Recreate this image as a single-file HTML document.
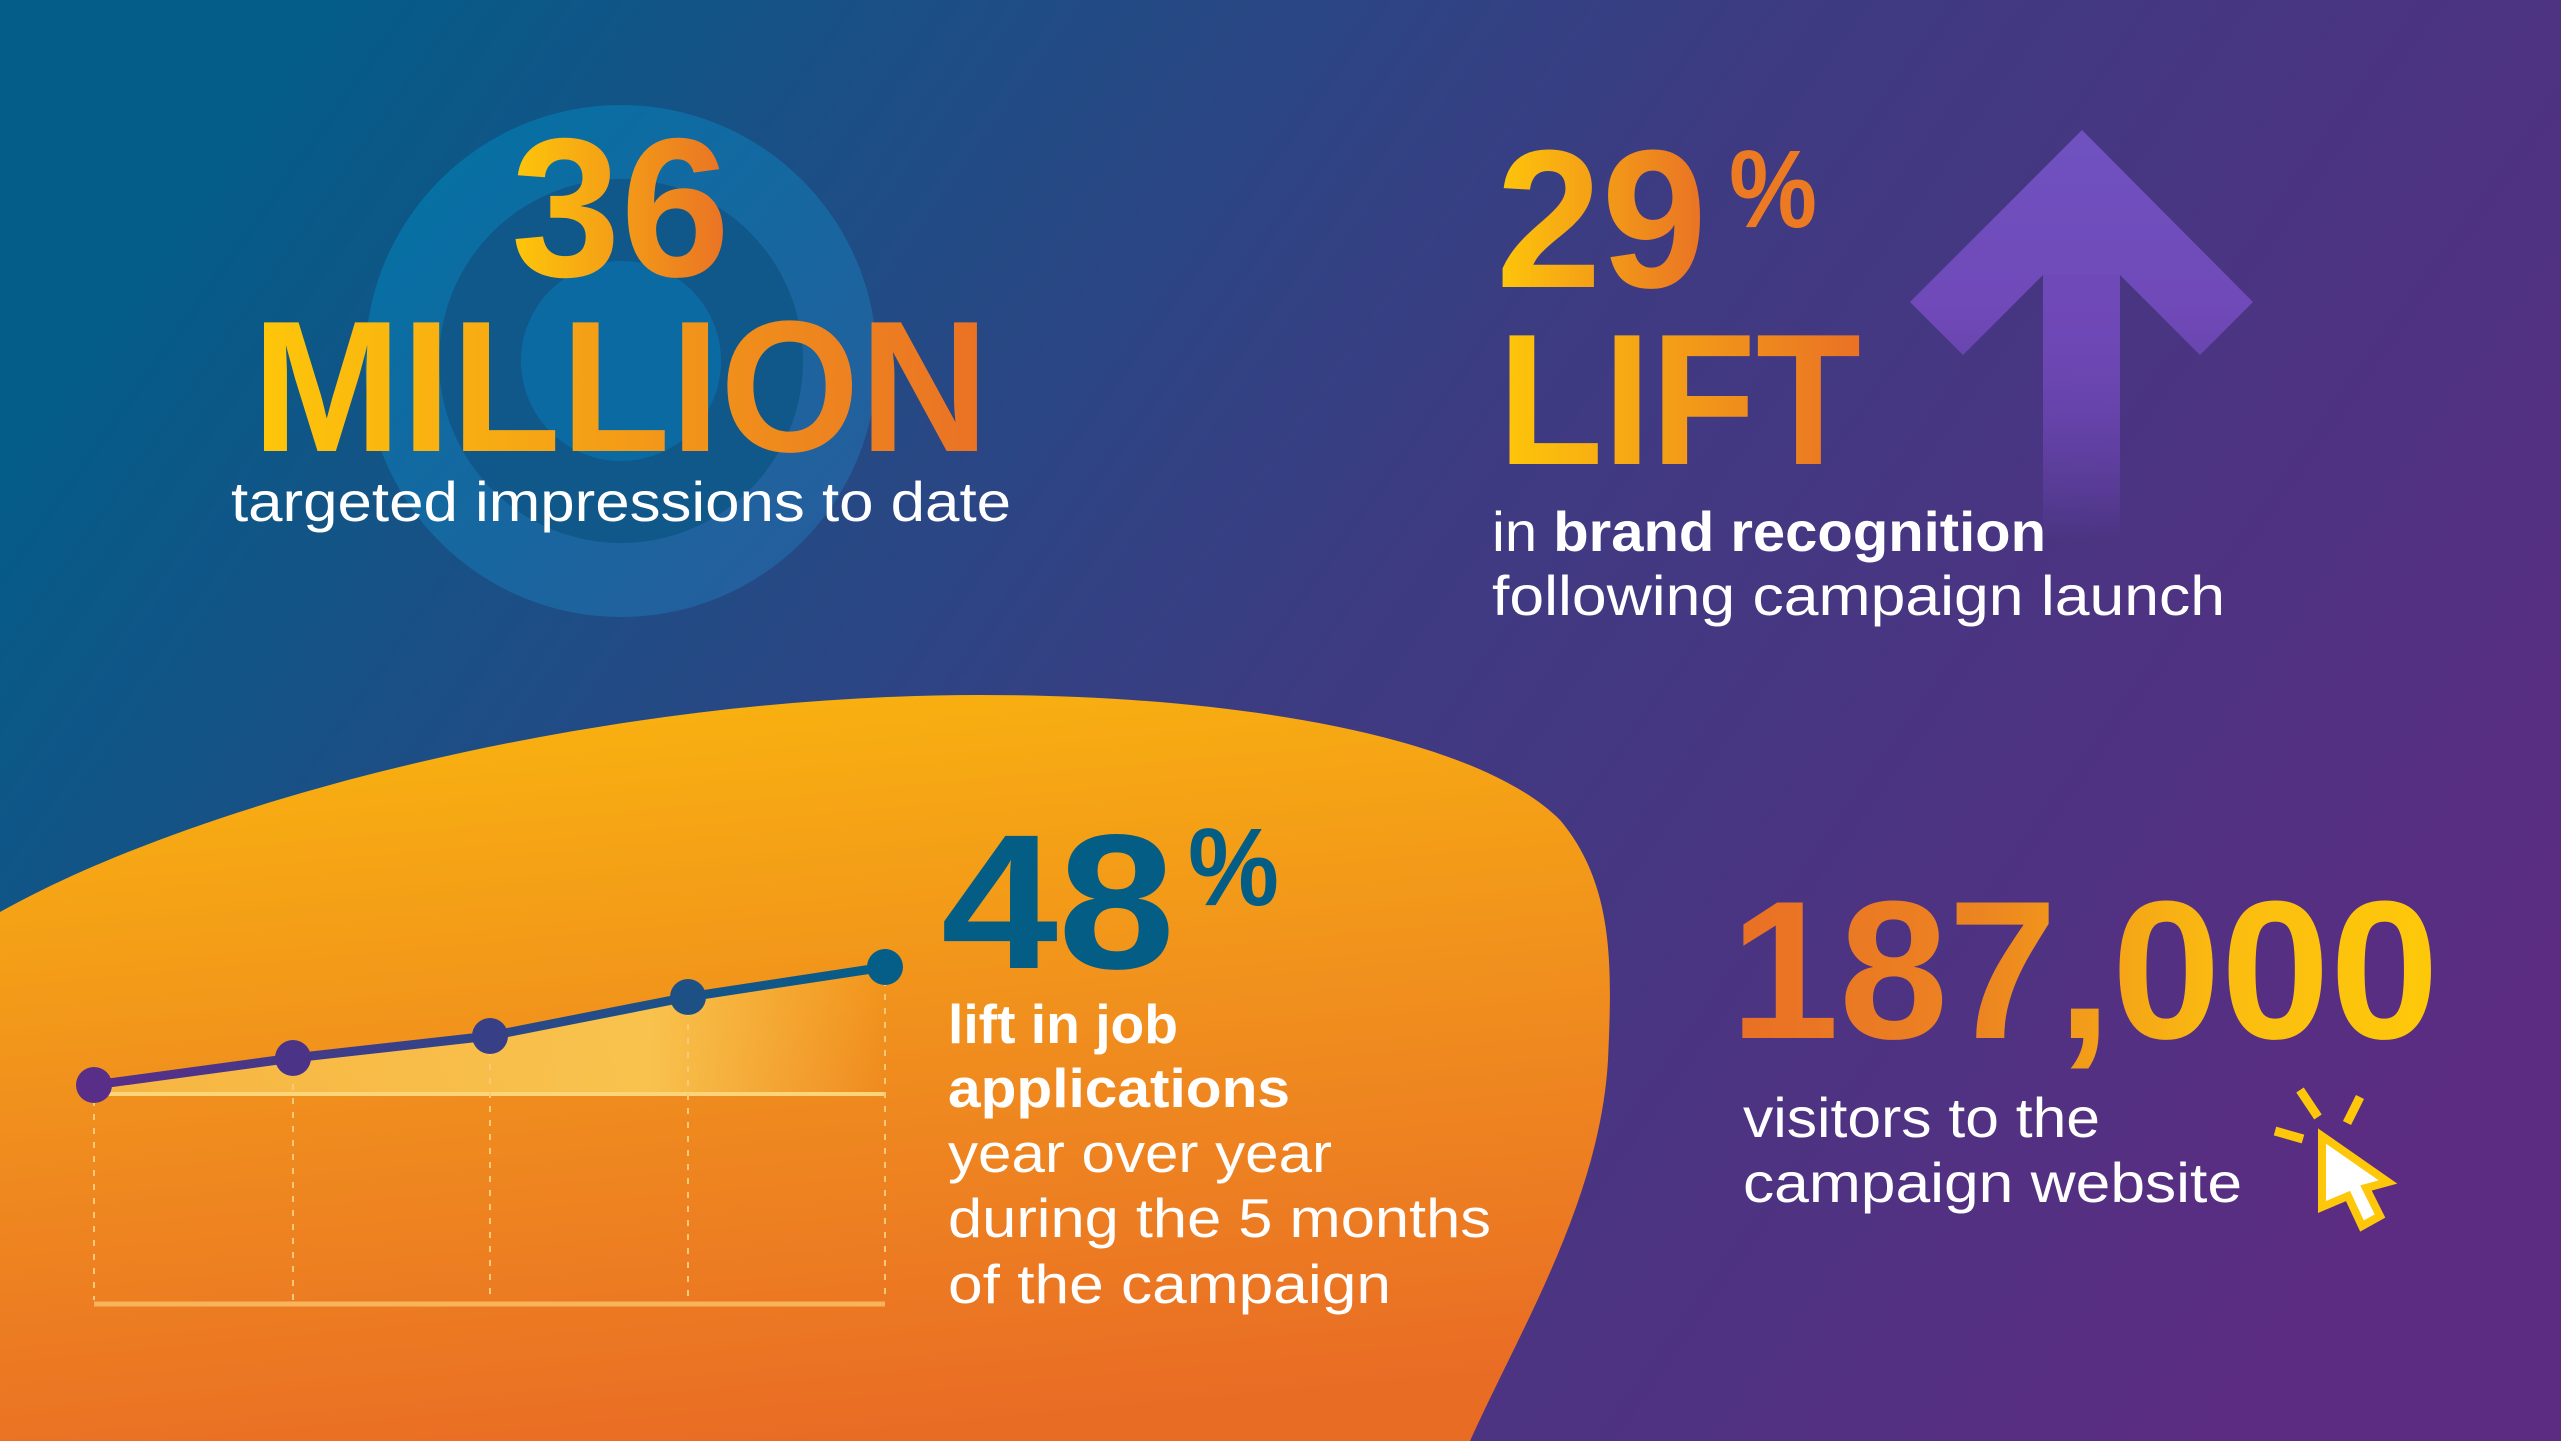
<!DOCTYPE html>
<html><head><meta charset="utf-8"><style>
html,body{margin:0;padding:0;width:2561px;height:1441px;overflow:hidden}
svg{display:block}
text{font-family:"Liberation Sans",sans-serif}
</style></head><body>
<svg width="2561" height="1441" viewBox="0 0 2561 1441" xmlns="http://www.w3.org/2000/svg">
<defs>
<linearGradient id="bg" x1="0" y1="0.3" x2="1" y2="0.7">
<stop offset="0" stop-color="#035d88"/>
<stop offset="0.5" stop-color="#3d3b82"/>
<stop offset="1" stop-color="#5c2c82"/>
</linearGradient>
<linearGradient id="blob" x1="0.3" y1="0" x2="0.5" y2="1">
<stop offset="0" stop-color="#f9b30f"/>
<stop offset="0.5" stop-color="#f08e1e"/>
<stop offset="1" stop-color="#e96c25"/>
</linearGradient>
<linearGradient id="yo" x1="0" y1="0" x2="1" y2="0">
<stop offset="0" stop-color="#fec70a"/>
<stop offset="1" stop-color="#e97125"/>
</linearGradient>
<linearGradient id="oy" x1="0" y1="0" x2="1" y2="0">
<stop offset="0" stop-color="#e96f25"/>
<stop offset="0.35" stop-color="#ec8421"/>
<stop offset="0.7" stop-color="#fbbd10"/>
<stop offset="1" stop-color="#fec90a"/>
</linearGradient>
<linearGradient id="ring" x1="0" y1="0" x2="1" y2="1">
<stop offset="0" stop-color="#0076a8"/>
<stop offset="1" stop-color="#2a5e9e"/>
</linearGradient>
<linearGradient id="arrow" x1="0" y1="0" x2="0" y2="1">
<stop offset="0" stop-color="#6f52c0"/>
<stop offset="0.45" stop-color="#7049b8"/>
<stop offset="1" stop-color="#7049b8" stop-opacity="0"/>
</linearGradient>
<linearGradient id="shaft" x1="0" y1="0" x2="0" y2="1">
<stop offset="0" stop-color="#7049b8"/>
<stop offset="1" stop-color="#6a44b0" stop-opacity="0"/>
</linearGradient>
<linearGradient id="area" x1="0" y1="0" x2="1" y2="0">
<stop offset="0" stop-color="#f9c550" stop-opacity="0.7"/>
<stop offset="0.7" stop-color="#f9c550" stop-opacity="0.95"/>
<stop offset="1" stop-color="#f9c550" stop-opacity="0"/>
</linearGradient>
<linearGradient id="line" x1="0" y1="0" x2="1" y2="0">
<stop offset="0" stop-color="#5a2d88"/>
<stop offset="1" stop-color="#045e88"/>
</linearGradient>
</defs>
<rect width="2561" height="1441" fill="url(#bg)"/>
<circle cx="621" cy="361" r="256" fill="url(#ring)" opacity="0.9"/>
<circle cx="621" cy="361" r="182" fill="#10578a"/>
<circle cx="621" cy="361" r="100" fill="#0c6aa2"/>
<polygon points="2082,130 2253,302 2200,355 2120,275 2120,540 2043,540 2043,275 1963,355 1910,302" fill="url(#arrow)"/>
<rect x="2043" y="275" width="77" height="265" fill="url(#shaft)"/>
<path d="M0,912 C200,800 600,695 980,695 C1250,695 1480,740 1560,820 C1615,885 1612,970 1608,1060 C1600,1200 1520,1330 1470,1441 L0,1441 Z" fill="url(#blob)"/>
<polygon points="94,1085 293,1058 490,1036 688,997 885,967 885,1094 94,1094" fill="url(#area)"/>
<line x1="94" y1="1094" x2="885" y2="1094" stroke="#fcd57a" stroke-width="4"/>
<line x1="94" y1="1304" x2="885" y2="1304" stroke="#f8b45a" stroke-width="5"/>
<g stroke="#f9c878" stroke-width="2" stroke-dasharray="6,8">
<line x1="94" y1="1100" x2="94" y2="1300"/>
<line x1="293" y1="1070" x2="293" y2="1300"/>
<line x1="490" y1="1050" x2="490" y2="1300"/>
<line x1="688" y1="1010" x2="688" y2="1300"/>
<line x1="885" y1="980" x2="885" y2="1300"/>
</g>
<polyline points="94,1085 293,1058 490,1036 688,997 885,967" fill="none" stroke="url(#line)" stroke-width="9" stroke-linejoin="round"/>
<circle cx="94" cy="1085" r="18" fill="#592e88"/>
<circle cx="293" cy="1058" r="18" fill="#4b3487"/>
<circle cx="490" cy="1036" r="18" fill="#373f86"/>
<circle cx="688" cy="997" r="18" fill="#1d5186"/>
<circle cx="885" cy="967" r="18" fill="#045e88"/>
<g stroke="#fec70a" stroke-width="9" stroke-linecap="butt">
<line x1="2300" y1="1090" x2="2318" y2="1117"/>
<line x1="2347" y1="1123" x2="2360" y2="1097"/>
<line x1="2275" y1="1131" x2="2303" y2="1139"/>
</g>
<polygon points="2322,1136 2388,1182 2366,1188 2380,1216 2362,1226 2348,1196 2322,1207" fill="#fff" stroke="#fec70a" stroke-width="8" stroke-linejoin="miter"/>
<text x="511" y="276" font-size="198" font-weight="bold" fill="url(#yo)" textLength="219" lengthAdjust="spacingAndGlyphs">36</text>
<text x="252" y="451" font-size="187" font-weight="bold" fill="url(#yo)" textLength="737" lengthAdjust="spacingAndGlyphs">MILLION</text>
<text x="231" y="521" font-size="56" fill="#fff" textLength="780" lengthAdjust="spacingAndGlyphs">targeted impressions to date</text>
<text x="1496" y="287" font-size="197" font-weight="bold" fill="url(#yo)" textLength="211" lengthAdjust="spacingAndGlyphs">29</text>
<text x="1729" y="227" font-size="110" font-weight="bold" fill="#ec7a22" textLength="88" lengthAdjust="spacingAndGlyphs">%</text>
<text x="1498" y="464" font-size="187" font-weight="bold" fill="url(#yo)" textLength="363" lengthAdjust="spacingAndGlyphs">LIFT</text>
<text x="1492" y="551" font-size="56" fill="#fff" textLength="554" lengthAdjust="spacingAndGlyphs">in <tspan font-weight="bold">brand recognition</tspan></text>
<text x="1492" y="615" font-size="56" fill="#fff" textLength="733" lengthAdjust="spacingAndGlyphs">following campaign launch</text>
<text x="941" y="968" font-size="192" font-weight="bold" fill="#045d85" textLength="234" lengthAdjust="spacingAndGlyphs">48</text>
<text x="1188" y="905" font-size="110" font-weight="bold" fill="#045d85" textLength="91" lengthAdjust="spacingAndGlyphs">%</text>
<text x="948" y="1043" font-size="55" font-weight="bold" fill="#fff" textLength="230" lengthAdjust="spacingAndGlyphs">lift in job</text>
<text x="948" y="1107" font-size="55" font-weight="bold" fill="#fff" textLength="342" lengthAdjust="spacingAndGlyphs">applications</text>
<text x="948" y="1172" font-size="55" fill="#fff" textLength="384" lengthAdjust="spacingAndGlyphs">year over year</text>
<text x="948" y="1237" font-size="55" fill="#fff" textLength="543" lengthAdjust="spacingAndGlyphs">during the 5 months</text>
<text x="948" y="1303" font-size="55" fill="#fff" textLength="443" lengthAdjust="spacingAndGlyphs">of the campaign</text>
<text x="1730" y="1038" font-size="197" font-weight="bold" fill="url(#oy)" textLength="709" lengthAdjust="spacingAndGlyphs">187,000</text>
<text x="1743" y="1137" font-size="56" fill="#fff" textLength="357" lengthAdjust="spacingAndGlyphs">visitors to the</text>
<text x="1743" y="1202" font-size="56" fill="#fff" textLength="499" lengthAdjust="spacingAndGlyphs">campaign website</text>
</svg>
</body></html>
